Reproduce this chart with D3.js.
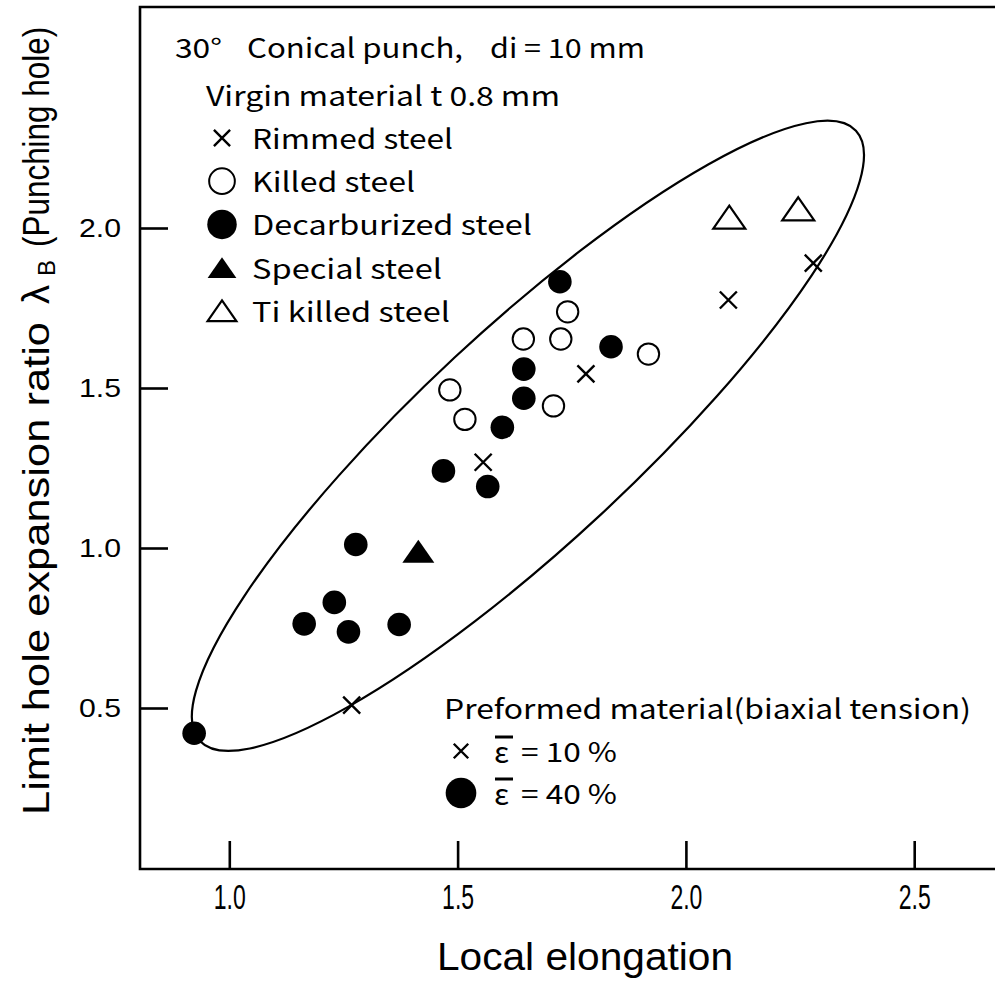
<!DOCTYPE html>
<html>
<head>
<meta charset="utf-8">
<script src="https://cdn.jsdelivr.net/npm/d3@7"></script>
<style>
  body { margin: 0; background: #fff; }
  svg { display: block; }
</style>
</head>
<body>
<script>
// points: [local elongation, limit hole expansion ratio]
var crossPts = [[1.268, 0.509], [1.556, 1.268], [1.781, 1.544], [2.093, 1.775], [2.279, 1.890]];
var openCirclePts = [[1.483, 1.494], [1.516, 1.402], [1.644, 1.653], [1.726, 1.653], [1.741, 1.738], [1.710, 1.444], [1.918, 1.606]];
var filledCirclePts = [[0.923, 0.421], [1.164, 0.763], [1.230, 0.830], [1.261, 0.738], [1.372, 0.761], [1.277, 1.011],
                       [1.469, 1.241], [1.566, 1.192], [1.598, 1.377], [1.645, 1.468], [1.645, 1.559], [1.836, 1.629], [1.724, 1.832]];
var filledTrianglePts = [[1.414, 0.990]];
var openTrianglePts = [[2.095, 2.034], [2.246, 2.060]];

var xTicks = [1.0, 1.5, 2.0, 2.5];
var yTicks = [0.5, 1.0, 1.5, 2.0];

var virginLegend = [
  {sym: "cross", label: "Rimmed steel", len: 201},
  {sym: "open", label: "Killed steel", len: 163},
  {sym: "dot", label: "Decarburized steel", len: 280},
  {sym: "tri", label: "Special steel", len: 190},
  {sym: "otri", label: "Ti killed steel", len: 198}
];
var preformLegend = [
  {sym: "cross", pct: "10 %"},
  {sym: "dot", pct: "40 %"}
];

// enclosing ellipse: centre in data units, semi-axes in px, tilt in degrees
var ellipseCenter = [1.654, 1.3505];
var ellipseAxes = [448, 107.3];
var ellipseTilt = 42.93;

var W = 995, H = 983;
var svg = d3.select("body").append("svg").attr("width", W).attr("height", H);

var x = d3.scaleLinear().domain([1.0, 2.5]).range([229.3, 914.2]);
var y = d3.scaleLinear().domain([0, 2.0]).range([868, 228]);

var plotLeft = 140, plotTop = 7, plotBottom = 869;

// frame: left, top and bottom lines (no right border)
svg.append("path")
  .attr("d", "M" + W + "," + plotTop + "H" + plotLeft + "V" + plotBottom + "H" + W)
  .attr("fill", "none").attr("stroke", "#000").attr("stroke-width", 2.6);

var xAxis = svg.append("g").attr("transform", "translate(0," + plotBottom + ")")
  .call(d3.axisBottom(x).tickValues(xTicks).tickSize(-28).tickPadding(15).tickFormat(d3.format(".1f")));
xAxis.select(".domain").remove();
xAxis.selectAll(".tick line").attr("stroke-width", 2.6);
xAxis.selectAll(".tick text")
  .attr("font-family", "'Liberation Sans Narrow', 'Liberation Sans', sans-serif")
  .attr("font-size", 35).attr("fill", "#000")
  .attr("textLength", 32).attr("lengthAdjust", "spacingAndGlyphs");

var yAxis = svg.append("g").attr("transform", "translate(" + plotLeft + ",0)")
  .call(d3.axisLeft(y).tickValues(yTicks).tickSize(-28).tickPadding(19).tickFormat(d3.format(".1f")));
yAxis.select(".domain").remove();
yAxis.selectAll(".tick line").attr("stroke-width", 2.6);
yAxis.selectAll(".tick text")
  .attr("font-family", "'Liberation Sans', Arial, sans-serif")
  .attr("font-size", 26).attr("fill", "#000")
  .attr("textLength", 42).attr("lengthAdjust", "spacingAndGlyphs");

// axis titles
svg.append("text")
  .attr("x", 437).attr("y", 970)
  .attr("font-family", "'Liberation Sans Narrow', 'Liberation Sans', sans-serif")
  .attr("font-size", 38)
  .attr("textLength", 296).attr("lengthAdjust", "spacingAndGlyphs")
  .text("Local elongation");

var yt = svg.append("g").attr("transform", "translate(49,0) rotate(-90)")
  .attr("font-family", "'Liberation Sans Narrow', 'Liberation Sans', sans-serif");
yt.append("text").attr("x", -815).attr("y", 0).attr("font-size", 37)
  .attr("textLength", 493).attr("lengthAdjust", "spacingAndGlyphs")
  .text("Limit hole expansion ratio");
yt.append("text").attr("x", -304).attr("y", 0).attr("font-size", 38)
  .text("λ");
yt.append("text").attr("x", -276).attr("y", 6).attr("font-size", 24)
  .text("B");
yt.append("text").attr("transform", "translate(-247,0) scale(0.85,1)").attr("font-size", 37)
  .text("(Punching hole)");

// ellipse drawn around the data
svg.append("ellipse")
  .attr("transform", "translate(" + x(ellipseCenter[0]) + "," + y(ellipseCenter[1]) + ") rotate(" + (-ellipseTilt) + ")")
  .attr("rx", ellipseAxes[0]).attr("ry", ellipseAxes[1])
  .attr("fill", "none").attr("stroke", "#000").attr("stroke-width", 2.2);

// marker drawing helper
function drawSym(g, kind, cx, cy, s) {
  if (kind === "cross") {
    var a = 8.5 * s;
    g.append("path")
      .attr("d", "M" + (cx - a) + "," + (cy - a) + "L" + (cx + a) + "," + (cy + a) +
                 "M" + (cx - a) + "," + (cy + a) + "L" + (cx + a) + "," + (cy - a))
      .attr("stroke", "#000").attr("stroke-width", 2.4).attr("fill", "none");
  } else if (kind === "open") {
    g.append("circle").attr("cx", cx).attr("cy", cy).attr("r", 10.7 * s)
      .attr("fill", "#fff").attr("stroke", "#000").attr("stroke-width", 2);
  } else if (kind === "dot") {
    g.append("circle").attr("cx", cx).attr("cy", cy).attr("r", 11.8 * s).attr("fill", "#000");
  } else if (kind === "tri" || kind === "otri") {
    var hw = 16 * s, hh = 11.5 * s;
    var p = g.append("path")
      .attr("d", "M" + cx + "," + (cy - hh) + "L" + (cx + hw) + "," + (cy + hh) + "L" + (cx - hw) + "," + (cy + hh) + "Z");
    if (kind === "tri") p.attr("fill", "#000");
    else p.attr("fill", "none").attr("stroke", "#000").attr("stroke-width", 2.2).attr("stroke-linejoin", "miter");
  }
}

var marks = svg.append("g");
[["cross", crossPts], ["open", openCirclePts], ["dot", filledCirclePts],
 ["tri", filledTrianglePts], ["otri", openTrianglePts]].forEach(function (s) {
  s[1].forEach(function (d) { drawSym(marks, s[0], x(d[0]), y(d[1]), 1); });
});

// legend (virgin material)
var lf = "'Noto Sans CJK JP', 'Noto Sans', sans-serif";
var lg = svg.append("g").attr("font-family", lf).attr("font-size", 27).attr("fill", "#000");
lg.append("text").attr("x", 175).attr("y", 58).attr("textLength", 47).attr("lengthAdjust", "spacingAndGlyphs").text("30°");
lg.append("text").attr("x", 247).attr("y", 58).attr("textLength", 216).attr("lengthAdjust", "spacingAndGlyphs").text("Conical punch,");
lg.append("text").attr("x", 490).attr("y", 58).attr("textLength", 155).attr("lengthAdjust", "spacingAndGlyphs").text("di = 10 mm");
lg.append("text").attr("x", 206).attr("y", 106).attr("textLength", 354).attr("lengthAdjust", "spacingAndGlyphs").text("Virgin material t 0.8 mm");

virginLegend.forEach(function (d, i) {
  var cy = 138 + i * 43.2;
  var sc = d.sym === "cross" ? 0.95 : d.sym === "open" ? 1.2 : d.sym === "dot" ? 1.25 : 0.9;
  drawSym(lg, d.sym, 222, cy, sc);
  lg.append("text").attr("x", 252).attr("y", cy + 11)
    .attr("textLength", d.len).attr("lengthAdjust", "spacingAndGlyphs").text(d.label);
});

// legend (preformed material)
lg.append("text").attr("x", 444).attr("y", 719).attr("textLength", 527).attr("lengthAdjust", "spacingAndGlyphs")
  .text("Preformed material(biaxial tension)");
preformLegend.forEach(function (d, i) {
  var cy = 751 + i * 42;
  drawSym(lg, d.sym, 461, cy, d.sym === "dot" ? 1.3 : 0.85);
  lg.append("text").attr("x", 494).attr("y", cy + 12).attr("font-size", 30).text("ε");
  lg.append("line").attr("x1", 495).attr("x2", 513).attr("y1", cy - 14).attr("y2", cy - 14)
    .attr("stroke", "#000").attr("stroke-width", 3);
  lg.append("text").attr("x", 521).attr("y", cy + 11)
    .attr("textLength", 96).attr("lengthAdjust", "spacingAndGlyphs").text("= " + d.pct);
});
</script>
</body>
</html>
